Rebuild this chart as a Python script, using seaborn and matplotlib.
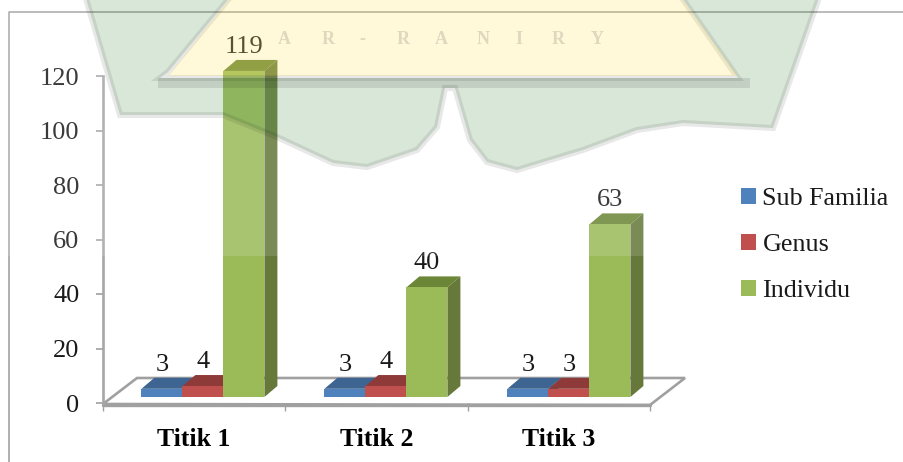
import numpy as np
import pandas as pd
import matplotlib
matplotlib.use("Agg")
import matplotlib.pyplot as plt
from matplotlib.patches import Polygon, Rectangle
import seaborn as sns

titik = ["Titik 1", "Titik 2", "Titik 3"]
kelompok = ["Sub Familia", "Genus", "Individu"]
sub_familia = [3, 3, 3]
genus = [4, 4, 3]
individu = [119, 40, 63]
y_ticks = [0, 20, 40, 60, 80, 100, 120]

warna = ["#4F81BD", "#C0504D", "#9BBB59"]
warna_atas = ["#3E6491", "#8E3A38", "#6B8636"]
warna_sisi = ["#3E6491", "#8E3A38", "#66783A"]

W, H = 904, 462

sns.set_theme(style="white")
plt.rcParams["font.family"] = ["Liberation Serif", "DejaVu Serif"]
plt.rcParams["text.color"] = "#1a1a1a"
plt.rcParams["xtick.color"] = "#1a1a1a"
plt.rcParams["ytick.color"] = "#1a1a1a"

df = pd.DataFrame({
    "titik": titik * 3,
    "kelompok": np.repeat(kelompok, 3),
    "jumlah": sub_familia + genus + individu,
})


def box(x0, y_top, x1, y_bottom):
    # pixel box -> figure fraction
    return [x0 / W, 1 - y_bottom / H, (x1 - x0) / W, (y_bottom - y_top) / H]


fig = plt.figure(figsize=(W / 100, H / 100), dpi=100)
fig.patch.set_facecolor("white")

# frame and chart floor, in pixel coordinates
ax_bg = fig.add_axes([0, 0, 1, 1], zorder=0)
ax_bg.set_xlim(0, W)
ax_bg.set_ylim(H, 0)
ax_bg.axis("off")
ax_bg.plot([9, 9, W], [H, 12, 12], color="#9A9A9A", lw=1.1)
ax_bg.add_patch(Polygon([(103, 404), (137, 378), (685, 378), (650, 405)],
                        closed=True, fc="white", ec="#A0A0A0", lw=1.9))
ax_bg.plot([103, 650], [405, 405], color="#A0A0A0", lw=2.4)

# y axis wall and category ticks
ax_wall = fig.add_axes(box(103, 76, 650, 403), zorder=1)
ax_wall.patch.set_alpha(0)
ax_wall.set_ylim(0, 120)
ax_wall.set_xlim(0, 3)
ax_wall.set_yticks(y_ticks)
ax_wall.set_xticks([0, 1, 2, 3])
ax_wall.set_xticklabels([])
ax_wall.set_xticks([0.5, 1.5, 2.5], minor=True)
ax_wall.set_xticklabels(titik, minor=True, fontsize=18.5, fontweight="bold", color="black")
ax_wall.tick_params(axis="x", which="minor", length=0, pad=18)
ax_wall.tick_params(axis="x", which="major", length=6, width=1, color="#A0A0A0", bottom=True)
ax_wall.tick_params(axis="y", length=5, width=1.2, color="#A0A0A0", labelsize=19, pad=12, left=True)
for s in ["top", "right", "bottom"]:
    ax_wall.spines[s].set_visible(False)
ax_wall.spines["left"].set_color("#A6A6A6")
ax_wall.spines["left"].set_linewidth(1.9)

# bars
ax = fig.add_axes(box(103, 68.2, 652, 397), zorder=2)
ax.patch.set_alpha(0)
sns.barplot(data=df, x="titik", y="jumlah", hue="kelompok", hue_order=kelompok,
            palette=warna, width=0.672, gap=0, saturation=1, linewidth=0, ax=ax, zorder=3)
ax.set_xlim(-0.546, 2.454)
ax.set_ylim(0, 120)
ax.axis("off")

dx = 13 / 183
dy = 11 / 2.74
for i, cont in enumerate(ax.containers):
    for bar in cont:
        x0, w, h = bar.get_x(), bar.get_width(), bar.get_height()
        ax.add_patch(Polygon([(x0, h), (x0 + dx, h + dy), (x0 + w + dx, h + dy), (x0 + w, h)],
                             closed=True, fc=warna_atas[i], ec="none", zorder=2, clip_on=False))
        ax.add_patch(Polygon([(x0 + w, 0), (x0 + w + dx, dy), (x0 + w + dx, h + dy), (x0 + w, h)],
                             closed=True, fc=warna_sisi[i], ec="none", zorder=2 - 0.1 * (2 - i),
                             clip_on=False))
    ax.bar_label(cont, fontsize=19, padding=9.5, color="#1a1a1a", clip_on=False)

handles, labels = ax.get_legend_handles_labels()
ax.get_legend().remove()
fig.legend(handles, labels, loc="center left", bbox_to_anchor=(718 / W, 1 - 245 / H),
           frameon=False, fontsize=18.7, handlelength=0.57, handleheight=0.57,
           handletextpad=0.24, labelspacing=0.92)

# watermark sitting over the whole chart
ax_wm = fig.add_axes([0, 0, 1, 1], zorder=5)
ax_wm.set_xlim(0, W)
ax_wm.set_ylim(H, 0)
ax_wm.axis("off")
ax_wm.add_patch(Rectangle((0, 0), W, 256, fc="white", alpha=0.14, ec="none"))
wm_shape = [(85, -5), (232, -5), (168, 72), (160, 78), (738, 78), (680, -5), (820, -5),
            (773, 128), (683, 123), (637, 130), (583, 150), (517, 170), (487, 162),
            (470, 140), (455, 88), (445, 88), (437, 127), (417, 150), (367, 167),
            (333, 163), (277, 137), (223, 115), (120, 115)]
ax_wm.add_patch(Polygon(wm_shape, closed=True, fc=(0, 0.39, 0, 0.15),
                        ec=(0, 0, 0, 0.09), lw=4.4))
ax_wm.add_patch(Polygon([(232, -5), (680, -5), (738, 76), (168, 76)], closed=True,
                        fc=(1, 0.85, 0, 0.15), ec="none"))
ax_wm.add_patch(Rectangle((158, 78), 592, 10, fc=(0, 0, 0, 0.1), ec="none"))
wm_huruf = ["A", "R", "-", "R", "A", "N", "I", "R", "Y"]
wm_x = [284, 328, 362, 403, 441, 483, 519, 558, 597]
for huruf, xh in zip(wm_huruf, wm_x):
    ax_wm.text(xh, 39, huruf, fontsize=13, fontweight="bold", ha="center", va="center",
               color="#555555", alpha=0.2)

fig.savefig("out.png", dpi=100)
